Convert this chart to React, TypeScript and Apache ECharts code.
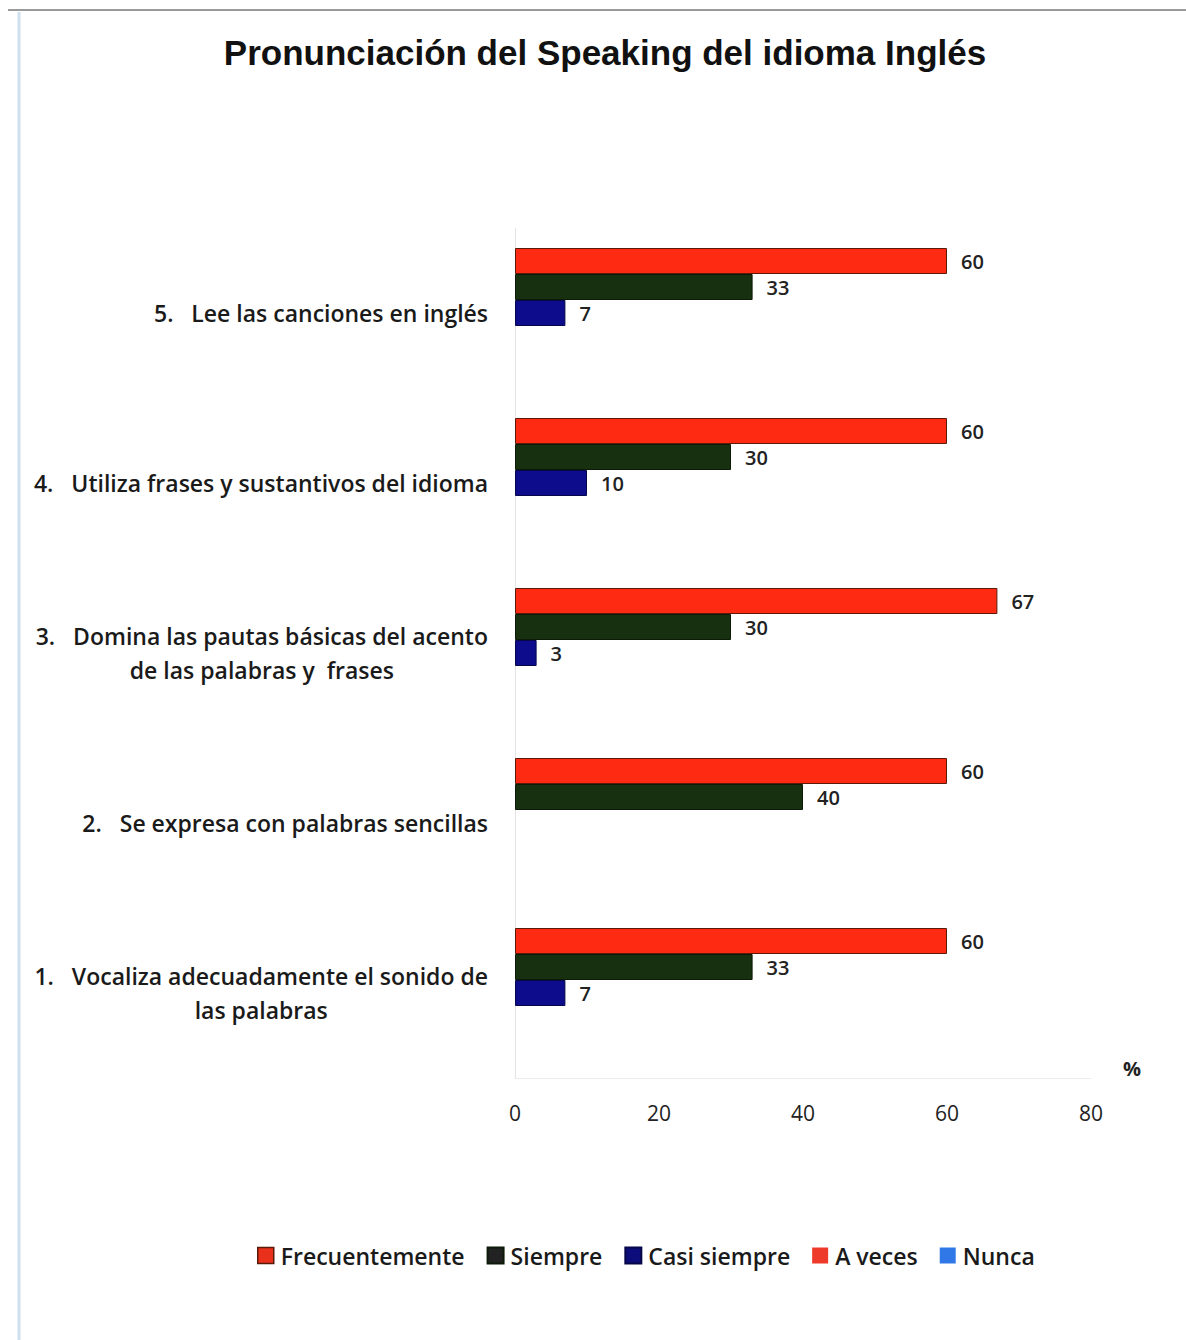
import React, { useEffect, useRef } from "react";
import * as echarts from "echarts";

const categories = [
  "1.   Vocaliza adecuadamente el sonido de\nlas palabras",
  "2.   Se expresa con palabras sencillas",
  "3.   Domina las pautas básicas del acento\nde las palabras y  frases",
  "4.   Utiliza frases y sustantivos del idioma",
  "5.   Lee las canciones en inglés",
];
const seriesNames = ["Frecuentemente", "Siempre", "Casi siempre", "A veces", "Nunca"];
const frecuentemente = [60, 60, 67, 60, 60];
const siempre = [33, 40, 30, 30, 33];
const casiSiempre = [7, null, 3, 10, 7];
const aVeces = [null, null, null, null, null];
const nunca = [null, null, null, null, null];
const xTicks = [0, 20, 40, 60, 80];

const FONT = "'Open Sans', Lato, sans-serif";

export default function App() {
  const ref = useRef<HTMLDivElement>(null);
  useEffect(() => {
    document.body.style.margin = "0";
    const chart = echarts.init(ref.current!, null, { renderer: "svg" });
    const colors = ["#ff2a12", "#17300f", "#0c0c8c", "#ee3a2a", "#3078e8"];
    const datas = [frecuentemente, siempre, casiSiempre, aVeces, nunca];
    const series = seriesNames.map((name, i) => ({
      name,
      type: "bar",
      data: datas[i],
      barWidth: 26,
      barGap: "0%",
      itemStyle: {
        color: colors[i],
        borderColor: i === 0 ? "#5a1a0a" : i === 1 ? "#0d1a08" : "#06064a",
        borderWidth: i < 3 ? 1 : 0,
      },
      label: {
        show: true,
        position: "right",
        distance: 14,
        fontFamily: FONT,
        fontSize: 20,
        fontWeight: 600,
        color: "#222",
      },
    }));
    chart.setOption({
      animation: false,
      backgroundColor: "#ffffff",
      title: {
        text: "Pronunciación del Speaking del idioma Inglés",
        left: 600,
        textAlign: "center",
        top: 30,
        textStyle: {
          fontFamily: "'Liberation Sans', Arial, sans-serif",
          fontWeight: "bold",
          fontSize: 35,
          color: "#111",
        },
      },
      legend: {
        data: [
          { name: "Frecuentemente", itemStyle: { color: "#e8301a", borderColor: "#5a1a0a", borderWidth: 1.5 } },
          { name: "Siempre", itemStyle: { color: "#222222" } },
          { name: "Casi siempre", itemStyle: { color: "#0c0c7a" } },
          { name: "A veces", itemStyle: { color: "#ee3a2a" } },
          { name: "Nunca", itemStyle: { color: "#3078e8" } },
        ],
        left: 252,
        top: 1239,
        icon: "rect",
        itemWidth: 16,
        itemHeight: 16,
        itemGap: 22,
        textStyle: { fontFamily: FONT, fontSize: 23, fontWeight: 600, color: "#1a1a1a", padding: [0, 0, 0, 2] },
      },
      grid: { left: 515, right: 95, top: 228, bottom: 262, containLabel: false },
      xAxis: {
        type: "value",
        min: xTicks[0],
        max: xTicks[xTicks.length - 1],
        interval: 20,
        name: "%",
        nameLocation: "end",
        nameGap: 32,
        nameTextStyle: { fontFamily: FONT, fontSize: 20, fontWeight: "bold", color: "#222", verticalAlign: "bottom" },
        axisLine: { show: true, lineStyle: { color: "#ececec", width: 1 } },
        axisTick: { show: false },
        splitLine: { show: false },
        axisLabel: { fontFamily: FONT, fontSize: 21, color: "#222", margin: 24 },
      },
      yAxis: {
        type: "category",
        data: categories,
        axisLine: { show: true, lineStyle: { color: "#e4e4e4", width: 1 } },
        axisTick: { show: false },
        axisLabel: {
          margin: 27,
          align: "right",
          fontFamily: FONT,
          fontSize: 23,
          fontWeight: 600,
          color: "#1a1a1a",
          lineHeight: 34,
          formatter: (v: string) =>
            v
              .split("\n")
              .map((l) => `{c|${l}}`)
              .join("\n"),
          rich: {
            c: { align: "center", fontFamily: FONT, fontSize: 23, fontWeight: 600, color: "#1a1a1a", lineHeight: 34 },
          },
        },
      },
      series,
      graphic: [
        { type: "line", shape: { x1: 8, y1: 10, x2: 1186, y2: 10 }, style: { stroke: "#9a9a9a", lineWidth: 2 } },
        { type: "line", shape: { x1: 19, y1: 12, x2: 19, y2: 1340 }, style: { stroke: "#cfe0ee", lineWidth: 3 } },
      ],
    });
    return () => chart.dispose();
  }, []);
  return <div ref={ref} style={{ width: 1186, height: 1340 }} />;
}
